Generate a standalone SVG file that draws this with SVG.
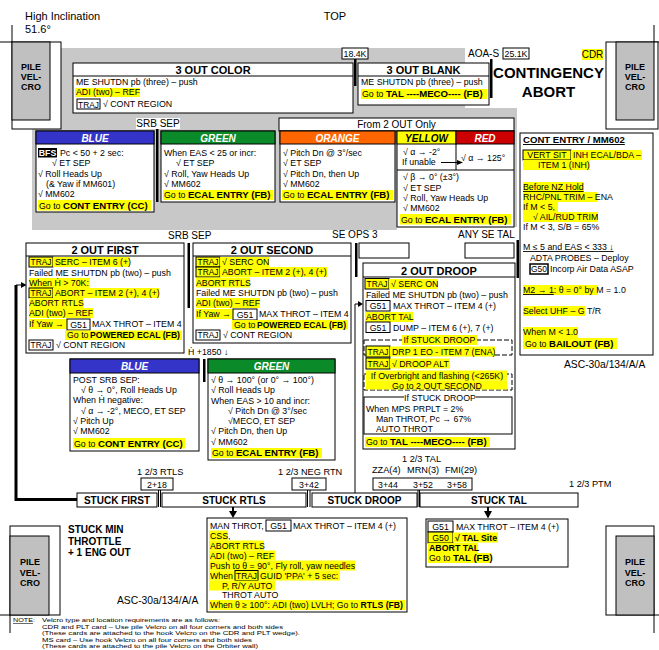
<svg xmlns="http://www.w3.org/2000/svg" width="659" height="650" viewBox="0 0 659 650">
<defs>
<style>
text{font-family:"Liberation Sans",Arial,"DejaVu Sans",sans-serif;font-size:8.8px;fill:#000}
.b{font-weight:bold}
.g{font-size:9.6px;font-weight:bold}
.hd{font-size:11px;font-weight:bold;text-anchor:middle}
.ch{font-size:10px;font-weight:bold;font-style:italic;text-anchor:middle;fill:#fff}
.m{text-anchor:middle}
.s{font-size:10px;font-weight:bold;text-anchor:middle}
.l{font-size:10px}
.l2{font-size:9.2px}
.tj{font-size:8.4px}
.pv{font-size:9px;font-weight:bold;text-anchor:middle}
.hl{fill:#ffff00}
.bx{fill:#fff;stroke:#000;stroke-width:1}
.fr{fill:none;stroke:#000;stroke-width:1}
.ds{fill:none;stroke:#000;stroke-width:1;stroke-dasharray:5,2}
.ty{fill:#ffff00;stroke:#000;stroke-width:1}
.tw{fill:#fff;stroke:#000;stroke-width:1}
.gr{fill:#c0c0c0;stroke:#000;stroke-width:1}
.bar{fill:#000}
.ln{stroke:#000;stroke-width:1;fill:none}
.u{text-decoration:underline}
.n{font-size:5.8px}
</style>
</defs>
<rect x="0" y="0" width="659" height="650" fill="#fff"/>
<path d="M32,48H465V108H517V227H397V230H32Z" fill="#c8c8c8"/>

<!-- top labels -->
<g id="title-texts">
<text x="25" y="20" style="font-size:11px">High Inclination</text>
<text x="25" y="33" style="font-size:11px">51.6°</text>
<text x="335" y="20" class="m" style="font-size:11px">TOP</text>
<text x="548.5" y="78" class="m" style="font-size:15px;font-weight:bold">CONTINGENCY</text>
<text x="548.5" y="97" class="m" style="font-size:15px;font-weight:bold">ABORT</text>
<rect x="582" y="49" width="21" height="11" class="hl"/>
<text x="592.5" y="58" class="m l">CDR</text>
</g>

<!-- pile velcro -->
<g id="pile-tl">
<line x1="12" y1="25" x2="12" y2="42" class="ln"/>
<line x1="0" y1="42" x2="12" y2="42" class="ln"/>
<rect x="12" y="42" width="49" height="87" class="bx"/>
<rect x="12" y="42" width="38" height="78" class="gr"/>
<text x="31" y="69.5" class="pv">PILE</text><text x="31" y="80" class="pv">VEL-</text><text x="31" y="90" class="pv">CRO</text>
</g>
<g id="pile-tr">
<line x1="654" y1="25" x2="654" y2="42" class="ln"/>
<line x1="654" y1="42" x2="659" y2="42" class="ln"/>
<rect x="606" y="42" width="52" height="87" class="bx"/>
<rect x="616" y="42" width="38" height="78" class="gr"/>
<text x="635" y="69.5" class="pv">PILE</text><text x="635" y="80" class="pv">VEL-</text><text x="635" y="90" class="pv">CRO</text>
</g>
<g id="pile-bl">
<rect x="10" y="526" width="50" height="89" class="bx"/>
<rect x="10" y="536" width="39" height="79" class="gr"/>
<line x1="10" y1="615" x2="10" y2="633" class="ln"/>
<line x1="0" y1="615" x2="10" y2="615" class="ln"/>
<text x="30" y="565" class="pv">PILE</text><text x="30" y="575.5" class="pv">VEL-</text><text x="30" y="586" class="pv">CRO</text>
</g>
<g id="pile-br">
<rect x="606" y="526" width="48" height="89" class="bx"/>
<rect x="616" y="536" width="38" height="79" class="gr"/>
<line x1="654" y1="615" x2="654" y2="633" class="ln"/>
<line x1="654" y1="615" x2="659" y2="615" class="ln"/>
<text x="635" y="565" class="pv">PILE</text><text x="635" y="575.5" class="pv">VEL-</text><text x="635" y="586" class="pv">CRO</text>
</g>

<!-- separators / labels -->
<g id="labels">
<rect x="342" y="48" width="26" height="11" class="bx"/><text x="355" y="57" class="m">18.4K</text>
<rect x="354" y="59" width="2.5" height="27" class="bar"/>
<text x="468" y="57" class="l">AOA-S</text>
<rect x="503" y="48" width="26" height="11" class="bx"/><text x="516" y="57" class="m">25.1K</text>
<rect x="490" y="59" width="2.5" height="39" class="bar"/>
<rect x="136" y="118" width="44" height="11" fill="#fff"/>
<text x="158" y="127" class="m l">SRB SEP</text>
<rect x="156" y="129" width="2.5" height="73" class="bar"/>
<rect x="279" y="118" width="235" height="13" class="bx"/>
<text x="396.5" y="128" class="m l">From 2 OUT Only</text>
<text x="168" y="239" class="l">SRB SEP</text>
<rect x="187.5" y="243" width="2.5" height="65" class="bar"/>
<text x="332" y="238" class="l">SE OPS 3</text>
<rect x="355" y="243" width="2.5" height="34" class="bar"/>
<rect x="359" y="243" width="50" height="15" class="bx"/>
<text x="458" y="238" class="l">ANY SE TAL</text>
<rect x="465" y="243" width="49" height="15" class="bx"/>
<rect x="516.5" y="240" width="2.5" height="38" class="bar"/>
<text x="188" y="355">Ḣ +1850 ↓</text>
<rect x="203" y="359" width="2.5" height="23" class="bar"/>
<text x="564" y="368" style="font-size:10.3px">ASC-30a/134/A/A</text>
<text x="137" y="475" class="l2">1 2/3 RTLS</text>
<rect x="141" y="478" width="32" height="12" class="bx"/><text x="157" y="487.5" class="m">2+18</text>
<line x1="158.5" y1="490" x2="158.5" y2="507" class="ln"/><line x1="160.5" y1="490" x2="160.5" y2="507" class="ln"/>
<text x="278" y="475" class="l2">1 2/3 NEG RTN</text>
<rect x="292" y="478" width="34" height="12" class="bx"/><text x="309" y="487.5" class="m">3+42</text>
<line x1="307.5" y1="490" x2="307.5" y2="507" class="ln"/><line x1="310" y1="490" x2="310" y2="507" class="ln"/>
<text x="402" y="462" class="l2">1 2/3 TAL</text>
<text x="372" y="473" class="l2">ZZA(4)</text>
<text x="407" y="473" class="l2">MRN(3)</text>
<text x="445" y="473" class="l2">FMI(29)</text>
<rect x="373" y="478" width="99" height="12" class="bx"/>
<text x="388" y="487.5" class="m">3+44</text><text x="423" y="487.5" class="m">3+52</text><text x="457" y="487.5" class="m">3+58</text>
<line x1="418" y1="490" x2="418" y2="507" class="ln"/><line x1="419.5" y1="490" x2="419.5" y2="507" class="ln"/>
<text x="569" y="487" class="l2">1 2/3 PTM</text>
<text x="68" y="533" class="b l">STUCK MIN</text>
<text x="68" y="545" class="b l">THROTTLE</text>
<text x="68" y="556" class="b l">+ 1 ENG OUT</text>
<text x="117" y="604" style="font-size:10.3px">ASC-30a/134/A/A</text>
</g>

<!-- 3 OUT COLOR -->
<g id="n-3out-color">
<rect x="73" y="63" width="280" height="50" class="bx"/>
<line x1="73" y1="76" x2="353" y2="76" class="ln"/>
<text x="213" y="74" class="hd">3 OUT COLOR</text>
<text x="76" y="85">ME SHUTDN pb (three) – push</text>
<rect x="75" y="88" width="65" height="9" class="hl"/>
<text x="76" y="95">ADI (two) – REF</text>
<rect x="77" y="99" width="23" height="10" class="tw"/>
<text x="88.5" y="107.5" class="m tj">TRAJ</text>
<text x="103" y="107">√ CONT REGION</text>
</g>

<!-- 3 OUT BLANK -->
<g id="n-3out-blank">
<rect x="358" y="63" width="131" height="42" class="bx"/>
<line x1="358" y1="76" x2="489" y2="76" class="ln"/>
<text x="423.5" y="74" class="hd">3 OUT BLANK</text>
<text x="361" y="85">ME SHUTDN pb (three) – push</text>
<rect x="361" y="89" width="126" height="10" class="hl"/>
<text x="362" y="97">Go to <tspan class="g">TAL ----MECO---- (FB)</tspan></text>
</g>

<!-- BLUE top -->
<g id="n-blue-1">
<rect x="36" y="131" width="118" height="81" class="bx"/>
<rect x="36" y="131" width="118" height="13" fill="#3434c8" stroke="#000"/>
<text x="95" y="141.5" class="ch">BLUE</text>
<rect x="38" y="148" width="19" height="9.5" fill="#000"/>
<text x="47.5" y="156" class="m b" style="fill:#fff">BFS</text>
<text x="60" y="156">Pc &lt; 50 + 2 sec:</text>
<text x="52" y="166">√ ET SEP</text>
<text x="38" y="177">√ Roll Heads Up</text>
<text x="46" y="187">(&amp; Yaw if MM601)</text>
<text x="38" y="197">√ MM602</text>
<rect x="38" y="200" width="113" height="10.5" class="hl"/>
<text x="39" y="208.5">Go to <tspan class="g">CONT ENTRY (CC)</tspan></text>
</g>

<!-- GREEN top -->
<g id="n-green-1">
<rect x="161" y="131" width="114" height="71" class="bx"/>
<rect x="161" y="131" width="114" height="13" fill="#0b8a2a" stroke="#000"/>
<text x="218" y="141.5" class="ch">GREEN</text>
<text x="164" y="156">When EAS &lt; 25 or incr:</text>
<text x="176" y="166">√ ET SEP</text>
<text x="164" y="177">√ Roll, Yaw Heads Up</text>
<text x="164" y="187">√ MM602</text>
<rect x="163" y="190" width="110" height="10" class="hl"/>
<text x="164" y="198">Go to <tspan class="g">ECAL ENTRY (FB)</tspan></text>
</g>

<!-- ORANGE -->
<g id="n-orange">
<rect x="280" y="131" width="115" height="71" class="bx"/>
<rect x="280" y="131" width="115" height="13" fill="#ff6600" stroke="#000"/>
<text x="337.5" y="141.5" class="ch">ORANGE</text>
<text x="283" y="156">√ Pitch Dn @ 3°/sec</text>
<text x="283" y="166">√ ET SEP</text>
<text x="283" y="177">√ Pitch Dn, then Up</text>
<text x="283" y="187">√ MM602</text>
<rect x="282" y="190" width="111" height="10" class="hl"/>
<text x="283" y="198">Go to <tspan class="g">ECAL ENTRY (FB)</tspan></text>
</g>

<!-- YELLOW / RED -->
<g id="n-yellow-red">
<rect x="397" y="131" width="117" height="96" class="bx"/>
<rect x="397" y="131" width="59" height="13" fill="#ffff00" stroke="#000"/>
<rect x="456" y="131" width="58" height="13" fill="#cc0000" stroke="#000"/>
<text x="426.5" y="141.5" class="ch" style="fill:#000">YELLOW</text>
<text x="485" y="141.5" class="ch">RED</text>
<line x1="456" y1="144" x2="456" y2="170" class="ln"/>
<line x1="397" y1="170" x2="514" y2="170" class="ln"/>
<text x="403" y="155">√ α → -2°</text>
<text x="402" y="165">If unable</text>
<line x1="441" y1="162.5" x2="458" y2="162.5" class="ln"/>
<path d="M457,160 L463,162.5 L457,165 Z" fill="#000"/>
<text x="461" y="161">√ α → 125°</text>
<text x="403" y="180">√ β → 0° (±3°)</text>
<text x="403" y="190.5">√ ET SEP</text>
<text x="403" y="201">√ Roll, Yaw Heads Up</text>
<text x="403" y="211">√ MM602</text>
<rect x="400" y="214" width="111" height="10.5" class="hl"/>
<text x="401" y="222.5">Go to <tspan class="g">ECAL ENTRY (FB)</tspan></text>
</g>

<!-- CONT ENTRY panel -->
<g id="n-cont-entry">
<rect x="520" y="133" width="133" height="222" class="bx"/>
<text x="523" y="143" class="b u" style="font-size:9.6px">CONT ENTRY / MM602</text>
<rect x="523" y="150" width="48" height="10" class="ty"/>
<text x="547" y="158" class="m">VERT SIT</text>
<rect x="571" y="150" width="71" height="10" class="hl"/>
<text x="573" y="158">INH ECAL/BDA –</text>
<rect x="523" y="160" width="67" height="10" class="hl"/>
<text x="538" y="168">ITEM 1 (INH)</text>
<rect x="523" y="182" width="61" height="10" class="hl"/>
<text x="523" y="190" class="u">Before NZ Hold</text>
<rect x="523" y="192" width="74" height="10" class="hl"/>
<text x="523" y="200">RHC/PNL TRIM – ENA</text>
<rect x="523" y="202" width="35" height="10" class="hl"/>
<text x="523" y="210">If M &lt; 5,</text>
<rect x="523" y="212" width="75" height="10" class="hl"/>
<text x="533" y="220">√ AIL/RUD TRIM</text>
<text x="523" y="230">If M &lt; 3, S/B = 65%</text>
<text x="523" y="250" class="u">M ≤ 5 and EAS &lt; 333 ↓</text>
<text x="530" y="261">ADTA PROBES – Deploy</text>
<rect x="530" y="264" width="18" height="10" fill="#fff" stroke="#000" stroke-width="1.5"/>
<text x="539" y="272" class="m tj">G50</text>
<text x="550" y="272">Incorp Air Data ASAP</text>
<rect x="523" y="285" width="75" height="10" class="hl"/>
<text x="523" y="293"><tspan class="u">M2 → 1</tspan>: θ = 0° by M = 1.0</text>
<rect x="523" y="306" width="62" height="10" class="hl"/>
<text x="523" y="314">Select UHF – G T/R</text>
<rect x="523" y="327" width="55" height="11" class="hl"/>
<text x="523" y="335">When M &lt; 1.0</text>
<rect x="523" y="338" width="94" height="11" class="hl"/>
<text x="525" y="347">Go to <tspan class="g">BAILOUT (FB)</tspan></text>
</g>

<!-- 2 OUT FIRST -->
<g id="n-2out-first">
<rect x="26" y="243" width="158" height="110" class="bx"/>
<line x1="26" y1="256" x2="184" y2="256" class="ln"/>
<text x="105" y="254" class="hd">2 OUT FIRST</text>
<rect x="29" y="257" width="24" height="10" class="ty"/>
<text x="41" y="265" class="m tj">TRAJ</text>
<rect x="53" y="257" width="77" height="10" class="hl"/>
<text x="55" y="265">SERC – ITEM 6 (+)</text>
<text x="29" y="276">Failed ME SHUTDN pb (two) – push</text>
<rect x="29" y="278" width="61" height="10" class="hl"/>
<text x="29" y="286">When Ḣ &gt; 70K:</text>
<rect x="29" y="288" width="24" height="10" class="ty"/>
<text x="41" y="296" class="m tj">TRAJ</text>
<rect x="53" y="288" width="106" height="10" class="hl"/>
<text x="55" y="296">ABORT – ITEM 2 (+), 4 (+)</text>
<rect x="29" y="298" width="54" height="10" class="hl"/>
<text x="29" y="306">ABORT RTLS</text>
<rect x="29" y="308" width="64" height="10" class="hl"/>
<text x="29" y="316">ADI (two) – REF</text>
<rect x="29" y="319" width="38" height="10" class="hl"/>
<text x="29" y="327">If Yaw →</text>
<rect x="67" y="319" width="23" height="11" class="tw"/>
<text x="78.5" y="327.5" class="m">G51</text>
<text x="92" y="327">MAX THROT – ITEM 4</text>
<rect x="65" y="330.5" width="117" height="9.5" class="hl"/>
<text x="67" y="338">Go to</text>
<text x="90" y="338" class="g" textLength="90" lengthAdjust="spacingAndGlyphs">POWERED ECAL (FB)</text>
<rect x="29" y="340" width="24" height="10" class="tw"/>
<text x="41" y="348" class="m tj">TRAJ</text>
<text x="56" y="348">√ CONT REGION</text>
</g>

<!-- 2 OUT SECOND -->
<g id="n-2out-second">
<rect x="193" y="243" width="158" height="100" class="bx"/>
<line x1="193" y1="256" x2="351" y2="256" class="ln"/>
<text x="272" y="254" class="hd">2 OUT SECOND</text>
<rect x="196" y="257" width="24" height="10" class="ty"/>
<text x="208" y="265" class="m tj">TRAJ</text>
<rect x="220" y="257" width="49" height="10" class="hl"/>
<text x="222" y="265">√ SERC ON</text>
<rect x="196" y="267" width="24" height="10" class="ty"/>
<text x="208" y="275" class="m tj">TRAJ</text>
<rect x="220" y="267" width="107" height="10" class="hl"/>
<text x="222" y="275">ABORT – ITEM 2 (+), 4 (+)</text>
<rect x="196" y="277.5" width="54" height="10" class="hl"/>
<text x="196" y="285.5">ABORT RTLS</text>
<text x="196" y="295.5">Failed ME SHUTDN pb (two) – push</text>
<rect x="196" y="298" width="64" height="10" class="hl"/>
<text x="196" y="306">ADI (two) – REF</text>
<rect x="196" y="309" width="37" height="10" class="hl"/>
<text x="196" y="317">If Yaw →</text>
<rect x="233" y="309" width="24" height="11" class="tw"/>
<text x="245" y="317.5" class="m">G51</text>
<text x="259" y="317">MAX THROT – ITEM 4</text>
<rect x="232" y="320" width="116" height="9.5" class="hl"/>
<text x="234" y="328">Go to</text>
<text x="257" y="328" class="g" textLength="89" lengthAdjust="spacingAndGlyphs">POWERED ECAL (FB)</text>
<rect x="196" y="330" width="24" height="10" class="tw"/>
<text x="208" y="338" class="m tj">TRAJ</text>
<text x="223" y="338">√ CONT REGION</text>
</g>

<!-- BLUE lower -->
<g id="n-blue-2">
<rect x="70" y="359" width="129" height="92" class="bx"/>
<rect x="70" y="359" width="129" height="14" fill="#3434c8" stroke="#000"/>
<text x="134.5" y="370" class="ch">BLUE</text>
<text x="73" y="383">POST SRB SEP:</text>
<text x="81" y="393">√ θ → 0°, Roll Heads Up</text>
<text x="73" y="403">When Ḣ negative:</text>
<text x="81" y="414">√ α → -2°, MECO, ET SEP</text>
<text x="73" y="424">√ Pitch Up</text>
<text x="73" y="434">√ MM602</text>
<rect x="73" y="438" width="112" height="10.5" class="hl"/>
<text x="74" y="446.5">Go to <tspan class="g">CONT ENTRY (CC)</tspan></text>
</g>

<!-- GREEN lower -->
<g id="n-green-2">
<rect x="208" y="359" width="127" height="101" class="bx"/>
<rect x="208" y="359" width="127" height="14" fill="#0b8a2a" stroke="#000"/>
<text x="271.5" y="370" class="ch">GREEN</text>
<text x="211" y="383">√ θ → 100° (or 0° → 100°)</text>
<text x="211" y="393">√ Roll Heads Up</text>
<text x="211" y="404">When EAS &gt; 10 and incr:</text>
<text x="228" y="414">√ Pitch Dn @ 3°/sec</text>
<text x="228" y="424">√MECO, ET SEP</text>
<text x="211" y="434">√ Pitch Dn, then Up</text>
<text x="211" y="444.5">√ MM602</text>
<rect x="211" y="448" width="111" height="10" class="hl"/>
<text x="212" y="456">Go to <tspan class="g">ECAL ENTRY (FB)</tspan></text>
</g>

<!-- 2 OUT DROOP -->
<g id="n-2out-droop">
<rect x="363" y="263" width="152" height="186" class="bx"/>
<line x1="363" y1="277" x2="515" y2="277" class="ln"/>
<text x="439" y="274.5" class="hd">2 OUT DROOP</text>
<rect x="365" y="278.5" width="24" height="10.5" class="ty"/>
<text x="377" y="287" class="m tj">TRAJ</text>
<rect x="389" y="279" width="49" height="10" class="hl"/>
<text x="391" y="287">√ SERC ON</text>
<text x="366" y="298">Failed ME SHUTDN pb (two) – push</text>
<rect x="366" y="300.5" width="24" height="10.5" class="tw"/>
<text x="378" y="309" class="m">G51</text>
<text x="393" y="309">MAX THROT – ITEM 4 (+)</text>
<rect x="365" y="312" width="48" height="10" class="hl"/>
<text x="366" y="320">ABORT TAL</text>
<rect x="366" y="322" width="24" height="10.5" class="tw"/>
<text x="378" y="330.5" class="m">G51</text>
<text x="393" y="330.5">DUMP – ITEM 6 (+), 7 (+)</text>
<rect x="364" y="340" width="148" height="15" class="ds"/>
<rect x="402" y="335" width="75" height="10" class="hl"/>
<text x="439.5" y="343" class="m">If STUCK DROOP</text>
<rect x="366" y="346" width="24" height="11" class="ty"/>
<text x="378" y="354.5" class="m tj">TRAJ</text>
<rect x="390" y="346.5" width="105" height="10" class="hl"/>
<text x="392" y="354.5">DRP 1 EO - ITEM 7 (ENA)</text>
<rect x="366" y="358" width="24" height="11" class="ty"/>
<text x="378" y="366.5" class="m tj">TRAJ</text>
<rect x="390" y="358.5" width="60" height="10" class="hl"/>
<text x="392" y="366.5">√ DROOP ALT</text>
<rect x="364" y="374" width="148" height="16" class="ds"/>
<rect x="366" y="370.5" width="141" height="10" class="hl"/>
<text x="437" y="378.5" class="m">If Overbright and flashing (&lt;265K)</text>
<rect x="366" y="380.5" width="141" height="9" class="hl"/>
<text x="437" y="388.5" class="m">Go to 2 OUT SECOND</text>
<rect x="364" y="397" width="148" height="37" class="fr"/>
<rect x="404" y="392" width="72" height="10" fill="#fff"/>
<text x="440" y="400.5" class="m">If STUCK DROOP</text>
<text x="366" y="412">When MPS PRPLT = 2%</text>
<text x="376" y="422">Man THROT, Pc → 67%</text>
<text x="376" y="432">AUTO THROT</text>
<rect x="365" y="437" width="125" height="10" class="hl"/>
<text x="366" y="445">Go to <tspan class="g">TAL ----MECO---- (FB)</tspan></text>
</g>

<!-- STUCK row -->
<g id="n-stuck-first"><rect x="77" y="493" width="80" height="14" class="bx"/><text x="117" y="504" class="s">STUCK FIRST</text></g>
<g id="n-stuck-rtls"><rect x="162" y="493" width="144" height="14" class="bx"/><text x="234" y="504" class="s">STUCK RTLS</text></g>
<g id="n-stuck-droop"><rect x="312" y="493" width="105" height="14" class="bx"/><text x="364.5" y="504" class="s">STUCK DROOP</text></g>
<g id="n-stuck-tal"><rect x="420" y="493" width="158" height="14" class="bx"/><text x="499" y="504" class="s">STUCK TAL</text></g>

<!-- STUCK RTLS detail -->
<g id="n-stuck-rtls-detail">
<rect x="207" y="518" width="200" height="94" class="bx"/>
<text x="210" y="528.5">MAN THROT,</text>
<rect x="266" y="520" width="25" height="11" class="tw"/>
<text x="278.5" y="528.5" class="m">G51</text>
<text x="293" y="528.5">MAX THROT – ITEM 4 (+)</text>
<rect x="209" y="530.5" width="19" height="10" class="hl"/>
<text x="210" y="538.5">CSS,</text>
<rect x="209" y="540.5" width="55" height="10" class="hl"/>
<text x="210" y="548.5">ABORT RTLS</text>
<rect x="209" y="550.5" width="66" height="10" class="hl"/>
<text x="210" y="558.5">ADI (two) – REF</text>
<rect x="209" y="560.5" width="146" height="10" class="hl"/>
<text x="210" y="568.5">Push to θ = 90°, Fly roll, yaw needles</text>
<rect x="209" y="570.5" width="131" height="10" class="hl"/>
<text x="210" y="578.5">When</text>
<rect x="235" y="570.5" width="23" height="10" class="ty"/>
<text x="246.5" y="578.5" class="m tj">TRAJ</text>
<text x="260" y="578.5">GUID 'PPA' + 5 sec:</text>
<rect x="209" y="580.5" width="66" height="10" class="hl"/>
<text x="222" y="588.5">P, R/Y AUTO</text>
<text x="222" y="597.5">THROT AUTO</text>
<rect x="209" y="600" width="196" height="10" class="hl"/>
<text x="210" y="608" textLength="193" lengthAdjust="spacingAndGlyphs">When θ ≥ 100°: ADI (two) LVLH; Go to <tspan class="b">RTLS (FB)</tspan></text>
</g>

<!-- STUCK TAL detail -->
<g id="n-stuck-tal-detail">
<rect x="426" y="519" width="142" height="48" class="bx"/>
<rect x="428" y="521" width="25" height="11" class="tw"/>
<text x="440.5" y="529.5" class="m">G51</text>
<text x="456" y="529.5">MAX THROT – ITEM 4 (+)</text>
<rect x="428" y="532" width="25" height="11" class="ty"/>
<text x="440.5" y="540.5" class="m">G50</text>
<rect x="453" y="532.5" width="45" height="10" class="hl"/>
<text x="455" y="540.5" class="b">√ TAL Site</text>
<rect x="428" y="543" width="50" height="10" class="hl"/>
<text x="429" y="551" class="b">ABORT TAL</text>
<rect x="428" y="553" width="63" height="10" class="hl"/>
<text x="429" y="561">Go to <tspan class="g">TAL (FB)</tspan></text>
</g>

<!-- connectors -->
<g id="connectors">
<path d="M77,499.5 H16 V285" fill="none" stroke="#000" stroke-width="3"/>
<line x1="16" y1="285" x2="22" y2="285" class="ln"/>
<path d="M21,282 L26.5,285 L21,288 Z" fill="#000"/>
<path d="M355,493 V304 H359" class="ln"/>
<path d="M358,301 L363,304 L358,307 Z" fill="#000"/>
<line x1="233" y1="507" x2="233" y2="512" stroke="#000" stroke-width="2"/>
<path d="M229,511 L237,511 L233,518 Z" fill="#000"/>
<line x1="488" y1="507" x2="488" y2="512" stroke="#000" stroke-width="2"/>
<path d="M484,511 L492,511 L488,518.5 Z" fill="#000"/>
</g>

<!-- note -->
<g id="note">
<text x="13" y="622" class="n" textLength="22" lengthAdjust="spacingAndGlyphs"><tspan class="u">NOTE</tspan>:</text>
<text x="42" y="622" class="n" textLength="178" lengthAdjust="spacingAndGlyphs">Velcro type and location requirements are as follows:</text>
<text x="42" y="628.5" class="n" textLength="241" lengthAdjust="spacingAndGlyphs">CDR and PLT card – Use pile Velcro on all four corners and both sides</text>
<text x="42" y="635" class="n" textLength="258" lengthAdjust="spacingAndGlyphs">(These cards are attached to the hook Velcro on the CDR and PLT wedge).</text>
<text x="42" y="641.5" class="n" textLength="210" lengthAdjust="spacingAndGlyphs">MS card – Use hook Velcro on all four corners and both sides</text>
<text x="42" y="648" class="n" textLength="216" lengthAdjust="spacingAndGlyphs">(These cards are attached to the pile Velcro on the Orbiter wall)</text>
</g>
</svg>
